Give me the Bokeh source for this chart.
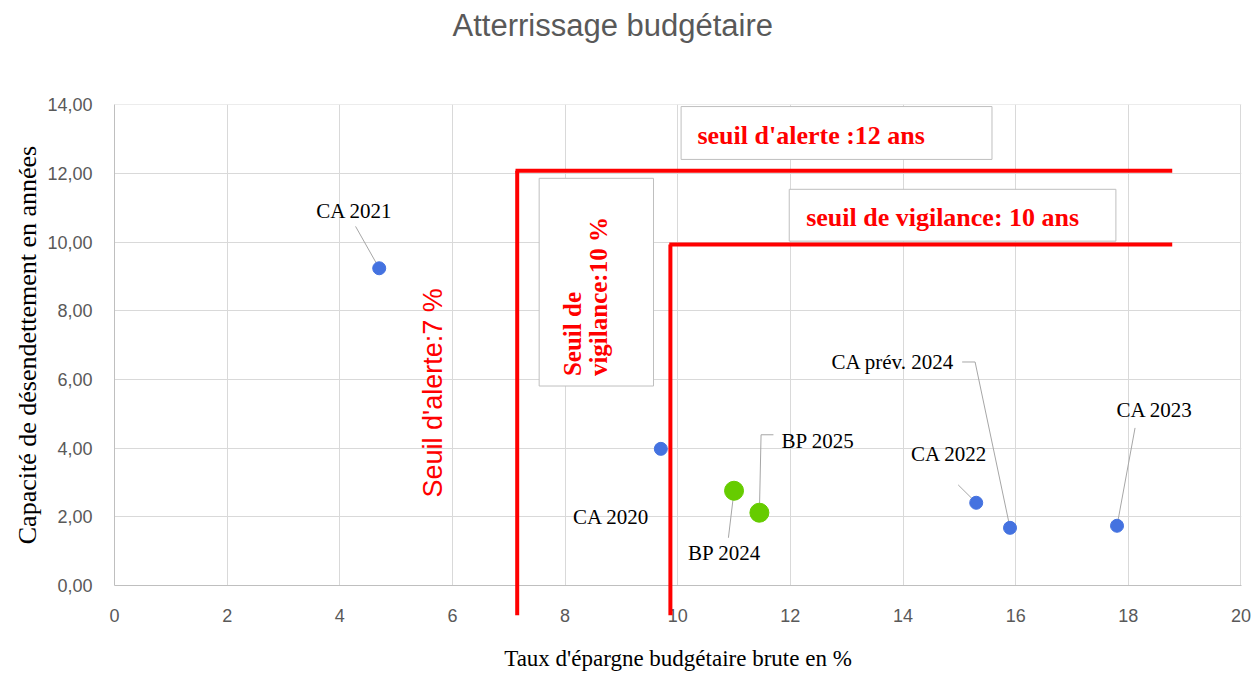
import math
from bokeh.plotting import figure
from bokeh.models import (ColumnDataSource, Label, BoxAnnotation, FixedTicker,
                          CustomJSTickFormatter, Range1d, Title)
from bokeh.core.properties import value
from bokeh.embed import file_html
from bokeh.resources import INLINE

# ---------------- data ----------------
labels = ["CA 2020", "CA 2021", "CA 2022", "CA 2023", "CA prév. 2024", "BP 2024", "BP 2025"]
epargne = [9.7, 4.7, 15.3, 17.8, 15.9, 11.0, 11.45]          # Taux d'épargne brute (%)
capacite = [3.98, 9.24, 2.41, 1.74, 1.68, 2.76, 2.12]        # Capacité de désendettement (années)
kind = ["CA", "CA", "CA", "CA", "CA", "BP", "BP"]

x_ticks = [0, 2, 4, 6, 8, 10, 12, 14, 16, 18, 20]
y_ticks = [0, 2, 4, 6, 8, 10, 12, 14]

# threshold lines as drawn on the picture
alerte_taux = 7.15
vigilance_taux = 9.87
alerte_annees = 12.08
vigilance_annees = 9.93
seuil_x_end = 18.78
seuil_y_bottom = -0.87

# ---------------- label positions (data coords) ----------------
label_pos = {
    "CA 2020": (8.82, 2.00),
    "CA 2021": (4.26, 10.92),
    "CA 2022": (14.82, 3.83),
    "CA 2023": (18.47, 5.11),
    "CA prév. 2024": (13.82, 6.51),
    "BP 2024": (10.83, 0.96),
    "BP 2025": (12.49, 4.21),
}
leader_anchor = {
    "CA 2021": [(4.28, 10.46)],
    "CA 2022": [(14.98, 2.93)],
    "CA 2023": [(18.12, 4.59)],
    "CA prév. 2024": [(15.05, 6.51), (15.28, 6.51)],
    "BP 2024": [(10.90, 1.39)],
    "BP 2025": [(11.70, 4.39), (11.48, 4.39)],
}

p = figure(width=1258, height=673, x_range=Range1d(0, 20.01), y_range=Range1d(0, 14.01),
           output_backend="svg", toolbar_location=None,
           min_border_left=114, min_border_right=17, min_border_top=103, min_border_bottom=88)
p.outline_line_color = None
p.background_fill_color = "white"
p.border_fill_color = "white"
p.title.text = ""

# spacer (nearest to the frame) then the real title above it
p.add_layout(Title(text=" ", text_font_size="30px", standoff=22), "above")
p.add_layout(Title(text="Atterrissage budgétaire", align="left", offset=338,
                   text_font="Liberation Sans", text_font_size="31px",
                   text_font_style="normal", text_color="#595959",
                   vertical_align="bottom"), "above")

p.xaxis.ticker = FixedTicker(ticks=x_ticks)
p.yaxis.ticker = FixedTicker(ticks=y_ticks)
p.yaxis.formatter = CustomJSTickFormatter(code="return tick.toFixed(2).replace('.', ',');")
p.xgrid.ticker = FixedTicker(ticks=x_ticks)
p.ygrid.ticker = FixedTicker(ticks=y_ticks)
p.grid.grid_line_color = "#d9d9d9"
p.grid.grid_line_width = 1

for ax in (p.xaxis, p.yaxis):
    ax.axis_line_color = "#bfbfbf"
    ax.major_tick_line_color = None
    ax.minor_tick_line_color = None
    ax.major_label_text_color = "#595959"
    ax.major_label_text_font = "Liberation Sans"
    ax.major_label_text_font_size = "18px"
    ax.axis_label_text_font = "Liberation Serif"
    ax.axis_label_text_font_style = "normal"
    ax.axis_label_text_color = "black"

p.xaxis.major_label_standoff = 17
p.xaxis.axis_label = "Taux d'épargne budgétaire brute en %"
p.xaxis.axis_label_text_font_size = "23px"
p.xaxis.axis_label_standoff = 21
p.yaxis.major_label_standoff = 16
p.yaxis.axis_label = "Capacité de désendettement en années"
p.yaxis.axis_label_text_font_size = "26px"
p.yaxis.axis_label_standoff = 2

# leader lines
xs, ys = [], []
for lab, ex, ey in zip(labels, epargne, capacite):
    if lab in leader_anchor:
        pts = leader_anchor[lab] + [(ex, ey)]
        xs.append([q[0] for q in pts])
        ys.append([q[1] for q in pts])
p.multi_line(xs, ys, line_color="#a6a6a6", line_width=1)

# points
ca = [i for i, k in enumerate(kind) if k == "CA"]
bp = [i for i, k in enumerate(kind) if k == "BP"]
p.scatter([epargne[i] for i in ca], [capacite[i] for i in ca], size=13,
          fill_color="#4472E0", line_color="#4472E0")
p.scatter([epargne[i] for i in bp], [capacite[i] for i in bp], size=19,
          fill_color="#66CC00", line_color="#66CC00")

# data labels
lsrc = ColumnDataSource(dict(x=[label_pos[l][0] for l in labels],
                             y=[label_pos[l][1] for l in labels], t=labels))
p.text(x="x", y="y", text="t", source=lsrc, text_align="center", text_baseline="middle",
       text_font=value("Liberation Serif"), text_font_size="21px", text_color="black")

# threshold lines
red = "#FF0000"
p.segment(x0=[alerte_taux, alerte_taux - 0.03, vigilance_taux, vigilance_taux - 0.02],
          y0=[seuil_y_bottom, alerte_annees, seuil_y_bottom, vigilance_annees],
          x1=[alerte_taux, seuil_x_end, vigilance_taux, seuil_x_end],
          y1=[alerte_annees, alerte_annees, vigilance_annees, vigilance_annees],
          line_color=red, line_width=4, level="overlay")

# text boxes
box_style = dict(fill_color="white", fill_alpha=1, line_color="#bfbfbf", line_width=1, line_alpha=1)
p.add_layout(BoxAnnotation(left=10.06, right=15.58, bottom=12.41, top=13.95, **box_style))
p.add_layout(BoxAnnotation(left=11.98, right=17.78, bottom=10.03, top=11.54, **box_style))
p.add_layout(BoxAnnotation(left=7.54, right=9.57, bottom=5.81, top=11.86, **box_style))

serif_bold = dict(text_font="Liberation Serif", text_font_style="bold", text_color=red,
                  text_baseline="middle", text_align="left")
p.add_layout(Label(x=10.35, y=13.10, text="seuil d'alerte :12 ans",
                   text_font_size="26px", **serif_bold))
p.add_layout(Label(x=12.28, y=10.72, text="seuil de vigilance: 10 ans",
                   text_font_size="26px", **serif_bold))
p.add_layout(Label(x=8.13, y=6.10, text="Seuil de", angle=math.pi / 2,
                   text_font_size="25px", **serif_bold))
p.add_layout(Label(x=8.59, y=6.10, text="vigilance:10 %", angle=math.pi / 2,
                   text_font_size="25px", **serif_bold))
p.add_layout(Label(x=5.66, y=5.61, text="Seuil d'alerte:7 %", angle=math.pi / 2,
                   text_align="center", text_baseline="middle",
                   text_font="Liberation Sans", text_font_size="27px", text_color=red))

open("out.html", "w").write(file_html(p, INLINE))
